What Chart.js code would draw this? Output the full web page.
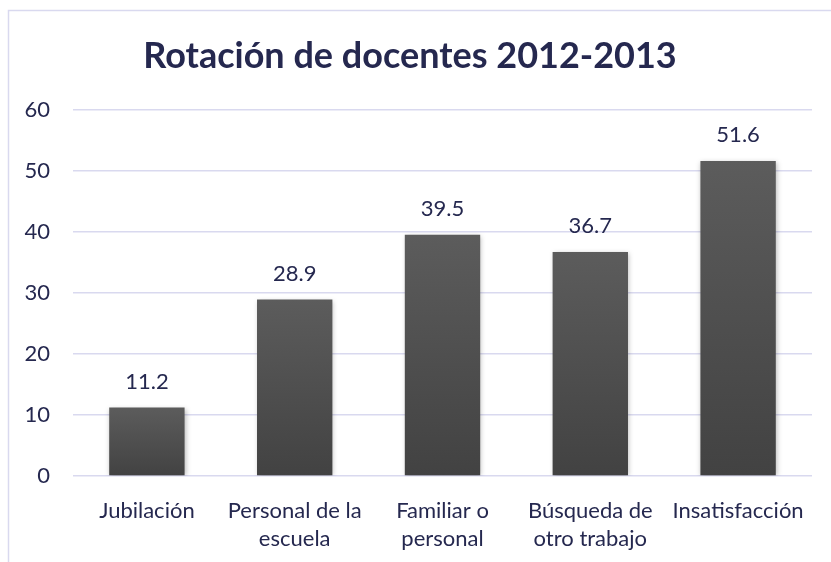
<!DOCTYPE html>
<html>
<head>
<meta charset="utf-8">
<script src="https://cdn.jsdelivr.net/npm/chart.js@4.4.1/dist/chart.umd.min.js"></script>
<style>
html,body{margin:0;padding:0;background:#fff;}
#wrap{width:831px;height:562px;position:relative;}
</style>
</head>
<body>
<div id="wrap"><canvas id="c" width="831" height="562"></canvas></div>
<script>
const titleText = "Rotación de docentes 2012-2013";
const categories = [["Jubilación"], ["Personal de la", "escuela"], ["Familiar o", "personal"], ["Búsqueda de", "otro trabajo"], ["Insatisfacción"]];
const values = [11.2, 28.9, 39.5, 36.7, 51.6];
const yTicks = [0, 10, 20, 30, 40, 50, 60];

const TEXT = "#25284f";
const GRID = "#d9d9ef";
const FONT = "Lato, 'Open Sans', sans-serif";

const frame = {
  id: "frame",
  beforeDraw(chart) {
    const ctx = chart.ctx;
    ctx.save();
    ctx.fillStyle = "#fff";
    ctx.fillRect(0, 0, chart.width, chart.height);
    ctx.strokeStyle = GRID;
    ctx.lineWidth = 1.5;
    ctx.strokeRect(8.5, 10.5, 1000, 1000);
    ctx.restore();
  }
};

const shadow = {
  id: "shadow",
  beforeDatasetDraw(chart) {
    const ctx = chart.ctx;
    ctx.save();
    ctx.shadowColor = "rgba(0,0,0,0.28)";
    ctx.shadowBlur = 5;
    ctx.shadowOffsetX = 1;
    ctx.shadowOffsetY = 1;
  },
  afterDatasetDraw(chart) {
    chart.ctx.restore();
  }
};

const labels = {
  id: "labels",
  afterDatasetsDraw(chart) {
    const ctx = chart.ctx;
    const meta = chart.getDatasetMeta(0);
    ctx.save();
    ctx.fillStyle = TEXT;
    ctx.font = "22px " + FONT;
    ctx.textAlign = "center";
    ctx.textBaseline = "middle";
    meta.data.forEach((bar, i) => {
      ctx.fillText(values[i].toFixed(1), bar.x, bar.y - 26);
    });
    ctx.restore();
  }
};

function barGradient(context) {
  const chart = context.chart;
  const ys = chart.scales.y;
  if (!ys || context.dataIndex === undefined) return "#505050";
  const top = ys.getPixelForValue(values[context.dataIndex]);
  const base = ys.getPixelForValue(0);
  if (!isFinite(top) || !isFinite(base)) return "#505050";
  const g = chart.ctx.createLinearGradient(0, top, 0, base);
  g.addColorStop(0, "#5c5c5c");
  g.addColorStop(1, "#424242");
  return g;
}

new Chart(document.getElementById("c"), {
  type: "bar",
  data: {
    labels: categories,
    datasets: [{
      data: values,
      backgroundColor: barGradient,
      borderWidth: 0,
      categoryPercentage: 1,
      barPercentage: 0.51
    }]
  },
  options: {
    responsive: false,
    animation: false,
    devicePixelRatio: 1,
    layout: { padding: { left: 8, right: 19, top: 0, bottom: 0 } },
    plugins: {
      legend: { display: false },
      tooltip: { enabled: false },
      title: {
        display: true,
        text: titleText,
        color: TEXT,
        font: { family: FONT, size: 36, weight: "bold", lineHeight: 1.2 },
        padding: { top: 34.5, bottom: 32 }
      }
    },
    scales: {
      x: {
        grid: { display: false },
        border: { display: false },
        ticks: {
          color: TEXT,
          font: { family: FONT, size: 22, lineHeight: 1.27 },
          padding: 13,
          maxRotation: 0,
          autoSkip: false
        },
        afterFit(scale) { scale.height = 86; }
      },
      y: {
        min: 0,
        max: 60,
        afterBuildTicks(scale) { scale.ticks = yTicks.map(v => ({ value: v })); },
        grid: { color: GRID, lineWidth: 1.5, drawTicks: false },
        border: { display: false },
        ticks: {
          color: TEXT,
          font: { family: FONT, size: 22 },
          padding: 23
        },
        afterFit(scale) { scale.width = 65; }
      }
    }
  },
  plugins: [frame, shadow, labels]
});
</script>
</body>
</html>
